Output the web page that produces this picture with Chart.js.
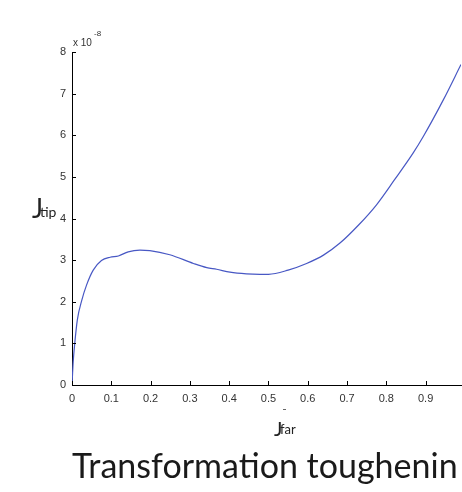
<!DOCTYPE html>
<html>
<head>
<meta charset="utf-8">
<script src="https://cdn.jsdelivr.net/npm/chart.js@4.4.1/dist/chart.umd.min.js"></script>
<style>
  html, body { margin: 0; padding: 0; background: #fff; overflow: hidden; }
  #wrap { width: 462px; height: 492px; position: relative; }
</style>
</head>
<body>
<div id="wrap"><canvas id="c" width="462" height="492"></canvas></div>
<script>
// J_far (far-field energy release rate, normalised)
const jFar = [0, 0.003, 0.007, 0.0135, 0.025, 0.037, 0.054, 0.075, 0.097, 0.118,
  0.143, 0.173, 0.198, 0.249, 0.309, 0.343, 0.368, 0.402, 0.444, 0.478,
  0.50, 0.55, 0.597, 0.64, 0.682, 0.73, 0.775, 0.82, 0.868, 0.894, 0.945, 0.99];
// J_tip in units of 1e-8
const jTip = [0, 0.55, 1.0, 1.56, 2.04, 2.40, 2.76, 2.99, 3.07, 3.10,
  3.20, 3.24, 3.23, 3.13, 2.92, 2.82, 2.78, 2.71, 2.67, 2.66,
  2.66, 2.76, 2.92, 3.12, 3.41, 3.85, 4.33, 4.92, 5.57, 5.97, 6.85, 7.70];
const yExponent = -8;
const xTicks = [0, 0.1, 0.2, 0.3, 0.4, 0.5, 0.6, 0.7, 0.8, 0.9];
const yTicks = [0, 1, 2, 3, 4, 5, 6, 7, 8];
const titleText = 'Transformation toughenin';

const points = jFar.map((x, i) => ({ x: x, y: jTip[i] }));

// inward tick marks on the left and bottom axes
const inwardTicks = {
  id: 'inwardTicks',
  afterDraw(chart) {
    const ctx = chart.ctx;
    const xs = chart.scales.x, ys = chart.scales.y;
    const a = chart.chartArea;
    ctx.save();
    ctx.strokeStyle = '#000';
    ctx.lineWidth = 1;
    ctx.beginPath();
    xs.ticks.forEach(t => {
      const px = Math.round(xs.getPixelForValue(t.value)) + 0.5;
      ctx.moveTo(px, a.bottom);
      ctx.lineTo(px, a.bottom - 4);
    });
    ys.ticks.forEach(t => {
      const py = Math.round(ys.getPixelForValue(t.value)) + 0.5;
      ctx.moveTo(a.left, py);
      ctx.lineTo(a.left + 4, py);
    });
    ctx.stroke();
    ctx.restore();
  }
};

// axis titles with subscripts, exponent note and the caption below
const annotations = {
  id: 'annotations',
  afterDraw(chart) {
    const ctx = chart.ctx;
    const a = chart.chartArea;
    ctx.save();
    ctx.textBaseline = 'alphabetic';
    ctx.textAlign = 'left';

    // exponent note above the y axis
    ctx.font = '10px "Liberation Sans", Arial, sans-serif';
    ctx.fillStyle = '#333';
    ctx.fillText('x 10', a.left + 1, a.top - 6);
    ctx.font = '8px "Liberation Sans", Arial, sans-serif';
    ctx.fillText(String(yExponent), a.left + 22, a.top - 16);

    // small stray mark under the x tick labels
    ctx.fillStyle = '#666';
    ctx.fillRect(283, 409, 3, 1);

    // y axis title: J_tip
    ctx.fillStyle = '#222';
    ctx.font = '26px Lato, "Open Sans", sans-serif';
    ctx.fillText('J', 32, 218);
    ctx.font = '14px Lato, "Open Sans", sans-serif';
    ctx.fillText('tip', 40, 217);

    // x axis title: J_far
    ctx.font = '20px Lato, "Open Sans", sans-serif';
    ctx.fillText('J', 274, 436);
    ctx.font = '13px Lato, "Open Sans", sans-serif';
    ctx.fillText('far', 280, 434);

    // caption
    ctx.font = '34px Lato, "Open Sans", sans-serif';
    ctx.fillStyle = '#1a1a1a';
    ctx.fillText(titleText, 72, 478);
    ctx.restore();
  }
};

new Chart(document.getElementById('c'), {
  type: 'line',
  data: {
    datasets: [{
      data: points,
      borderColor: 'rgb(72, 88, 196)',
      borderWidth: 1.2,
      pointRadius: 0,
      fill: false,
      cubicInterpolationMode: 'monotone'
    }]
  },
  options: {
    responsive: false,
    animation: false,
    layout: { padding: { left: 32, right: 1, top: 52, bottom: 77 } },
    plugins: { legend: { display: false }, tooltip: { enabled: false }, title: { display: false } },
    scales: {
      x: {
        type: 'linear',
        min: 0,
        max: 0.99,
        afterBuildTicks: s => { s.ticks = xTicks.map(v => ({ value: v })); },
        afterFit: s => { s.height = 30; },
        grid: { display: false, drawTicks: false },
        border: { display: true, color: '#000', width: 1 },
        ticks: {
          padding: 7,
          color: '#333',
          font: { family: '"Liberation Sans", Arial, sans-serif', size: 11 },
          maxRotation: 0,
          autoSkip: false,
          callback: v => String(Math.round(v * 10) / 10)
        }
      },
      y: {
        type: 'linear',
        min: 0,
        max: 8,
        afterBuildTicks: s => { s.ticks = yTicks.map(v => ({ value: v })); },
        afterFit: s => { s.width = 40; },
        grid: { display: false, drawTicks: false },
        border: { display: true, color: '#000', width: 1 },
        ticks: {
          padding: 6,
          color: '#333',
          font: { family: '"Liberation Sans", Arial, sans-serif', size: 11 },
          autoSkip: false,
          callback: v => String(v)
        }
      }
    }
  },
  plugins: [inwardTicks, annotations]
});
</script>
</body>
</html>
